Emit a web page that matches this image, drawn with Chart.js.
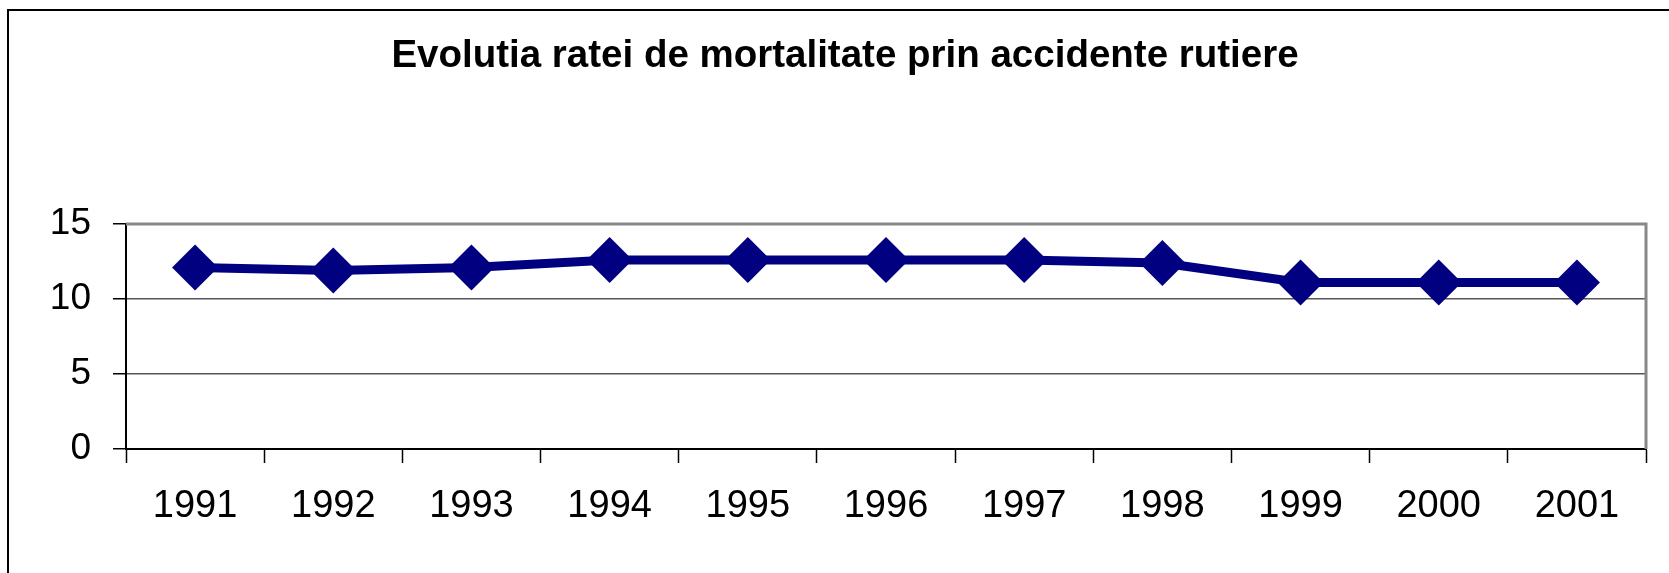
<!DOCTYPE html>
<html>
<head>
<meta charset="utf-8">
<script src="https://cdn.jsdelivr.net/npm/chart.js@4"></script>
<style>
  body { margin: 0; background: #fff; }
  canvas { display: block; }
</style>
</head>
<body>
<canvas id="grafic" width="1669" height="573"></canvas>
<script>
const ani = ['1991', '1992', '1993', '1994', '1995', '1996', '1997', '1998', '1999', '2000', '2001'];
const rata = [12.1, 11.9, 12.1, 12.6, 12.6, 12.6, 12.6, 12.4, 11.1, 11.1, 11.1];
const tickuriY = [0, 5, 10, 15];
const titlu = 'Evolutia ratei de mortalitate prin accidente rutiere';

const font = '"Liberation Sans", Arial, sans-serif';

// rama exterioara (sus si stanga) + chenarul gri al zonei de desen
const rame = {
  id: 'rame',
  beforeDraw(chart) {
    const ctx = chart.ctx;
    ctx.save();
    ctx.fillStyle = '#fff';
    ctx.fillRect(0, 0, chart.width, chart.height);
    ctx.strokeStyle = '#000';
    ctx.lineWidth = 2;
    ctx.beginPath();
    ctx.moveTo(8, chart.height + 5);
    ctx.lineTo(8, 10);
    ctx.lineTo(chart.width + 5, 10);
    ctx.stroke();
    ctx.restore();
  },
  afterDraw(chart) {
    const a = chart.chartArea;
    const ctx = chart.ctx;
    ctx.save();
    ctx.strokeStyle = '#888';
    ctx.lineWidth = 3;
    ctx.beginPath();
    ctx.moveTo(a.left, a.top);
    ctx.lineTo(a.right, a.top);
    ctx.lineTo(a.right, a.bottom);
    ctx.stroke();
    ctx.restore();
  }
};

const ctx = document.getElementById('grafic').getContext('2d');

const grafic = new Chart(ctx, {
  type: 'line',
  data: {
    labels: ani,
    datasets: [{
      label: 'Rata',
      data: rata,
      borderColor: '#000080',
      backgroundColor: '#000080',
      borderWidth: 9,
      tension: 0,
      pointStyle: 'rectRot',
      pointRadius: 23,
      pointBorderWidth: 0,
      pointBackgroundColor: '#000080'
    }]
  },
  options: {
    responsive: false,
    animation: false,
    devicePixelRatio: 1,
    // padding stanga 38 => titlul centrat ca in original
    layout: { padding: { left: 38, right: 17, top: 0, bottom: 0 } },
    plugins: {
      legend: { display: false },
      tooltip: { enabled: false },
      title: {
        display: true,
        text: titlu,
        color: '#000',
        font: { family: font, size: 38.5, weight: 'bold', lineHeight: 1 },
        padding: { top: 37, bottom: 148.5 }
      }
    },
    scales: {
      x: {
        offset: true,
        afterFit(scale) { scale.height = 124; },
        grid: {
          offset: true,
          drawOnChartArea: false,
          tickLength: 14,
          tickColor: '#000',
          tickWidth: 1.5
        },
        border: { color: '#000', width: 2 },
        ticks: {
          color: '#000',
          autoSkip: false,
          maxRotation: 0,
          padding: 21,
          font: { family: font, size: 38 }
        }
      },
      y: {
        min: 0,
        max: 15,
        afterFit(scale) { scale.width = 88; },
        afterBuildTicks(scale) {
          scale.ticks = tickuriY.map(v => ({ value: v }));
        },
        grid: {
          color: '#555',
          lineWidth: 1.5,
          tickLength: 13,
          tickColor: '#000',
          tickWidth: 1.5
        },
        border: { color: '#000', width: 2 },
        ticks: {
          color: '#000',
          padding: 22,
          font: { family: font, size: 37 }
        }
      }
    }
  },
  plugins: [rame]
});
</script>
</body>
</html>
